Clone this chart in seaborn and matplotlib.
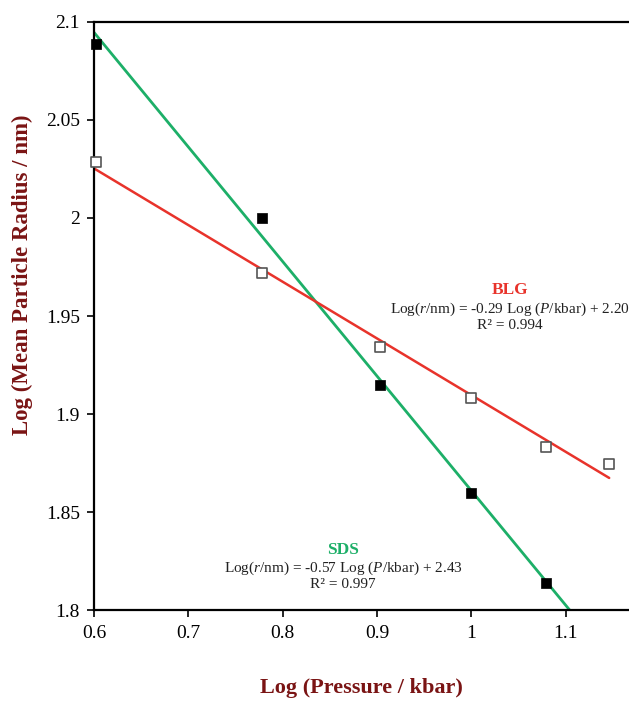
import numpy as np
import pandas as pd
import matplotlib
matplotlib.use("Agg")
import matplotlib.pyplot as plt
import seaborn as sns

# Data (log pressure / kbar, log mean particle radius / nm)
sds_x = [0.602, 0.778, 0.903, 1.000, 1.079]
sds_y = [2.0888, 2.0000, 1.9150, 1.8595, 1.8140]
blg_x = [0.602, 0.778, 0.903, 1.000, 1.079, 1.146]
blg_y = [2.0285, 1.9720, 1.9340, 1.9080, 1.8830, 1.8745]

# trendline ranges (x extent of each fitted line)
sds_trend_range = [0.60, 1.13]
blg_trend_range = [0.60, 1.146]

x_ticks = [0.6, 0.7, 0.8, 0.9, 1.0, 1.1]
x_tick_labels = ["0.6", "0.7", "0.8", "0.9", "1", "1.1"]
y_ticks = [1.8, 1.85, 1.9, 1.95, 2.0, 2.05, 2.1]
y_tick_labels = ["1.8", "1.85", "1.9", "1.95", "2", "2.05", "2.1"]

sns.set_style("white")
plt.rcParams["font.family"] = ["Liberation Serif", "DejaVu Serif"]
plt.rcParams["mathtext.fontset"] = "custom"
plt.rcParams["mathtext.it"] = "Liberation Serif:italic"
plt.rcParams["mathtext.rm"] = "Liberation Serif"

RED = "#E8332B"
GREEN = "#1DAF68"
LABEL = "#7A1414"

fig = plt.figure(figsize=(6.29, 7.02), dpi=100)
ax = fig.add_axes([0.1494, 0.131, 0.8506, 0.8377])

sds = pd.DataFrame({"x": sds_x, "y": sds_y})
blg = pd.DataFrame({"x": blg_x, "y": blg_y})

# trendlines from linear fits
ps = np.polyfit(sds_x, sds_y, 1)
pb = np.polyfit(blg_x, blg_y, 1)
tx_s = np.array(sds_trend_range)
tx_b = np.array(blg_trend_range)
sns.lineplot(x=tx_s, y=np.polyval(ps, tx_s), ax=ax, color=GREEN, lw=2.0, zorder=2)
sns.lineplot(x=tx_b, y=np.polyval(pb, tx_b), ax=ax, color=RED, lw=1.8, zorder=2)

sns.scatterplot(data=sds, x="x", y="y", ax=ax, marker="s", s=50,
                color="black", edgecolor="black", linewidth=0.5, zorder=3, clip_on=False)
sns.scatterplot(data=blg, x="x", y="y", ax=ax, marker="s", s=50,
                facecolor="white", edgecolor="#555555", linewidth=1.2, zorder=3, clip_on=False)

ax.set_xlim(0.6, 1.167)
ax.set_ylim(1.8, 2.1)
ax.set_xticks(x_ticks)
ax.set_xticklabels(x_tick_labels)
ax.set_yticks(y_ticks)
ax.set_yticklabels(y_tick_labels)
ax.tick_params(axis="both", direction="out", length=5, width=1.2, labelsize=14,
               colors="black", bottom=True, left=True, pad=5)
ax.tick_params(axis="x", pad=6)
for sp in ["left", "bottom", "top"]:
    ax.spines[sp].set_visible(True)
    ax.spines[sp].set_color("black")
    ax.spines[sp].set_linewidth(1.6)
ax.spines["right"].set_visible(False)
ax.grid(False)

ax.set_xlabel("Log (Pressure / kbar)", fontsize=16, fontweight="bold", color=LABEL, labelpad=26)
ax.set_ylabel("Log (Mean Particle Radius / nm)", fontsize=16.5, fontweight="bold", color=LABEL)
ax.yaxis.set_label_coords(-0.114, 0.57)

# annotations
TXT = "#222222"
ax.text(1.041, 1.9633, "BLG", color=RED, fontsize=12.5, fontweight="bold", ha="center", va="center")
ax.text(1.041, 1.9535, r"Log($r$/nm) = -0.29 Log ($P$/kbar) + 2.20", color=TXT, fontsize=11,
        ha="center", va="center")
ax.text(1.041, 1.9452, "R² = 0.994", color=TXT, fontsize=11, ha="center", va="center")

ax.text(0.864, 1.8306, "SDS", color=GREEN, fontsize=12.5, fontweight="bold", ha="center", va="center")
ax.text(0.864, 1.8214, r"Log($r$/nm) = -0.57 Log ($P$/kbar) + 2.43", color=TXT, fontsize=11,
        ha="center", va="center")
ax.text(0.864, 1.8128, "R² = 0.997", color=TXT, fontsize=11, ha="center", va="center")

fig.savefig("out.png", dpi=100)
